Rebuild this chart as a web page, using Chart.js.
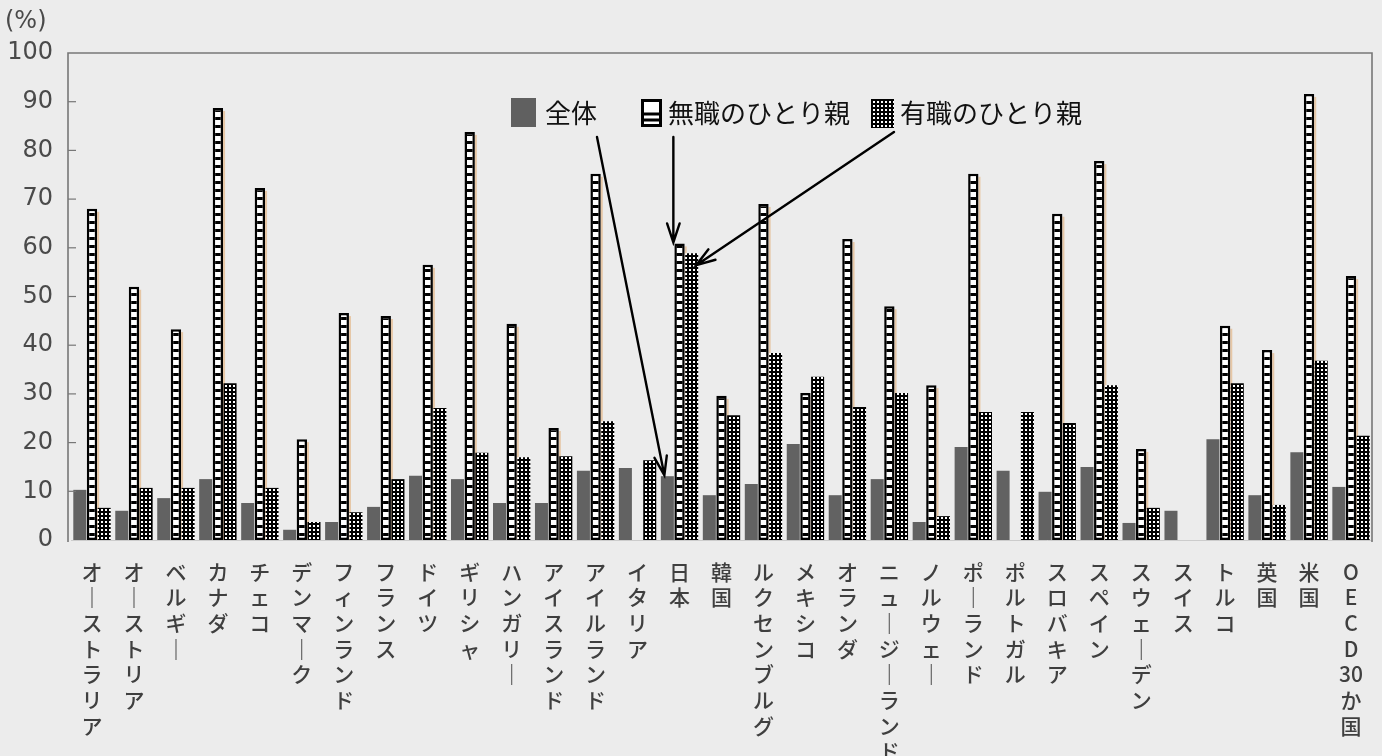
<!DOCTYPE html>
<html lang="ja">
<head>
<meta charset="utf-8">
<title>ひとり親世帯の貧困率</title>
<script src="https://cdn.jsdelivr.net/npm/chart.js"></script>
<style>
  html, body { margin: 0; padding: 0; background: #ececec; }
  #chart { display: block; }
</style>
</head>
<body>
<canvas id="chart" width="1382" height="756"></canvas>
<script>
// データ（図から読み取った値、単位 %）
const countries = ['オーストラリア', 'オーストリア', 'ベルギー', 'カナダ', 'チェコ', 'デンマーク',
  'フィンランド', 'フランス', 'ドイツ', 'ギリシャ', 'ハンガリー', 'アイスランド', 'アイルランド',
  'イタリア', '日本', '韓国', 'ルクセンブルグ', 'メキシコ', 'オランダ', 'ニュージーランド',
  'ノルウェー', 'ポーランド', 'ポルトガル', 'スロバキア', 'スペイン', 'スウェーデン', 'スイス',
  'トルコ', '英国', '米国', 'OECD30か国'];
const zentai = [10.3, 6.0, 8.6, 12.5, 7.6, 2.1, 3.7, 6.8, 13.2, 12.5, 7.6, 7.6, 14.2, 14.8, 13.1,
  9.2, 11.5, 19.7, 9.2, 12.5, 3.7, 19.1, 14.2, 9.9, 15.0, 3.5, 6.0, 20.7, 9.2, 18.0, 10.9];
const mushoku = [68.0, 52.0, 43.3, 88.7, 72.3, 20.7, 46.6, 46.0, 56.5, 83.8, 44.4, 23.0, 75.2, null, 60.9,
  29.6, 69.0, 30.2, 61.8, 48.0, 31.8, 75.2, null, 67.0, 77.8, 18.7, null, 44.0, 39.0, 91.6, 54.2];
const yushoku = [6.6, 10.7, 10.7, 32.2, 10.7, 3.7, 5.7, 12.5, 27.1, 17.9, 17.0, 17.2, 24.4, 16.4, 58.9,
  25.6, 38.4, 33.5, 27.3, 30.2, 4.9, 26.3, 26.3, 24.0, 31.8, 6.6, null, 32.2, 7.2, 36.8, 21.4];
const yTicks = [0, 10, 20, 30, 40, 50, 60, 70, 80, 90, 100];
const seriesNames = ['全体', '無職のひとり親', '有職のひとり親'];
const unitLabel = '(%)';
const focusIndex = countries.indexOf('日本');

// 縦書きラベル（長音は縦棒にする）
function tateLabel(s) {
  if (s === 'OECD30か国') return ['O', 'E', 'C', 'D', '30', 'か', '国'];
  return Array.from(s).map(c => (c === 'ー' ? '｜' : c));
}

function makePattern(w, h, draw) {
  const c = document.createElement('canvas');
  c.width = w; c.height = h;
  const g = c.getContext('2d');
  draw(g);
  return document.getElementById('chart').getContext('2d').createPattern(c, 'repeat');
}

// はしご模様（無職）
const ladder = makePattern(4, 8, g => {
  g.fillStyle = '#ffffff'; g.fillRect(0, 0, 4, 8);
  g.fillStyle = '#000000'; g.fillRect(0, 5, 4, 3);
});
// 市松模様（有職）
const checker = makePattern(4, 4, g => {
  g.fillStyle = '#000000'; g.fillRect(0, 0, 4, 4);
  g.fillStyle = '#ffffff'; g.fillRect(1, 1, 2, 2);
});

function arrow(ctx, x1, y1, x2, y2) {
  const a = Math.atan2(y2 - y1, x2 - x1);
  const len = 20, spread = 0.32;
  ctx.beginPath();
  ctx.moveTo(x1, y1); ctx.lineTo(x2, y2);
  ctx.moveTo(x2 - len * Math.cos(a - spread), y2 - len * Math.sin(a - spread));
  ctx.lineTo(x2, y2);
  ctx.lineTo(x2 - len * Math.cos(a + spread), y2 - len * Math.sin(a + spread));
  ctx.stroke();
}

const decor = {
  id: 'decor',
  beforeDatasetsDraw(chart) {
    // 無職の棒の右側にある薄い茶色の影（スキャンのにじみ）
    const ctx = chart.ctx;
    ctx.save();
    ctx.fillStyle = 'rgba(226, 170, 110, 0.55)';
    chart.getDatasetMeta(1).data.forEach((b, i) => {
      if (mushoku[i] == null) return;
      ctx.fillRect(b.x + b.width / 2, b.y + 3, 2, b.base - b.y - 3);
    });
    ctx.restore();
  },
  afterDraw(chart) {
    const ctx = chart.ctx;
    const area = chart.chartArea;
    const ys = chart.scales.y;
    const axisX = area.left - 3;
    ctx.save();

    // 枠線と内向きの目盛り
    ctx.strokeStyle = '#777777';
    ctx.lineWidth = 1.6;
    ctx.beginPath();
    ctx.moveTo(axisX, area.bottom + 2);
    ctx.lineTo(axisX, area.top);
    ctx.lineTo(area.right, area.top);
    ctx.lineTo(area.right, area.bottom + 2);
    ctx.stroke();
    ctx.lineWidth = 1.2;
    yTicks.slice(1, -1).forEach(v => {
      const y = ys.getPixelForValue(v);
      ctx.beginPath(); ctx.moveTo(axisX, y); ctx.lineTo(axisX + 8, y); ctx.stroke();
    });

    // 単位
    ctx.fillStyle = '#4a4a4a';
    ctx.font = '24px "DejaVu Sans"';
    ctx.textAlign = 'left';
    ctx.textBaseline = 'middle';
    ctx.fillText(unitLabel, 5, 22);

    // 凡例
    const ly = 113;
    ctx.fillStyle = '#606060';
    ctx.fillRect(511, 98, 25, 29);
    ctx.fillStyle = '#ffffff';
    ctx.fillRect(641, 99, 21, 28);
    ctx.strokeStyle = '#000000';
    ctx.lineWidth = 3;
    ctx.strokeRect(642.5, 100.5, 18, 25);
    ctx.beginPath();
    ctx.moveTo(642, 114); ctx.lineTo(661, 114);
    ctx.moveTo(642, 120); ctx.lineTo(661, 120);
    ctx.stroke();
    ctx.fillStyle = checker;
    ctx.fillRect(871, 99, 23, 29);

    ctx.fillStyle = '#111111';
    ctx.font = '26px "Noto Sans CJK JP"';
    ctx.textBaseline = 'middle';
    ctx.fillText(seriesNames[0], 545, ly);
    ctx.fillText(seriesNames[1], 668, ly);
    ctx.fillText(seriesNames[2], 900, ly);

    // 日本を指す矢印
    const b0 = chart.getDatasetMeta(0).data[focusIndex];
    const b1 = chart.getDatasetMeta(1).data[focusIndex];
    const b2 = chart.getDatasetMeta(2).data[focusIndex];
    ctx.strokeStyle = '#000000';
    ctx.lineWidth = 2.4;
    ctx.lineCap = 'round';
    arrow(ctx, 597, 137, b0.x - 3, b0.y - 1);
    arrow(ctx, b1.x - b1.width / 2 - 1, 137, b1.x - b1.width / 2 - 1, b1.y - 1);
    arrow(ctx, 894, 132, b2.x + b2.width / 2 - 2, b2.y + 12);

    ctx.restore();
  }
};

new Chart(document.getElementById('chart'), {
  type: 'bar',
  data: {
    labels: countries.map(tateLabel),
    datasets: [
      {
        label: seriesNames[0],
        data: zentai,
        backgroundColor: '#626262',
        borderWidth: 0,
        barPercentage: 1.07,
        categoryPercentage: 0.87
      },
      {
        label: seriesNames[1],
        data: mushoku,
        backgroundColor: ladder,
        borderColor: '#000000',
        borderWidth: 2.5,
        borderSkipped: false,
        barPercentage: 0.85,
        categoryPercentage: 0.87
      },
      {
        label: seriesNames[2],
        data: yushoku,
        backgroundColor: checker,
        borderWidth: 0,
        barPercentage: 1.07,
        categoryPercentage: 0.87
      }
    ]
  },
  options: {
    responsive: false,
    animation: false,
    layout: { padding: { top: 53, right: 10, left: 0, bottom: 0 } },
    plugins: {
      legend: { display: false },
      tooltip: { enabled: false }
    },
    scales: {
      x: {
        grid: { display: false },
        border: { display: true, color: '#cccccc', width: 1 },
        ticks: {
          autoSkip: false,
          maxRotation: 0,
          minRotation: 0,
          padding: 11,
          color: '#3f3f3f',
          font: { family: '"Noto Sans CJK JP"', size: 21, weight: '500', lineHeight: 1.22 }
        },
        afterFit(s) { s.height = 216; }
      },
      y: {
        min: 0,
        max: 100,
        grid: { display: false },
        border: { display: false },
        ticks: {
          stepSize: 10,
          padding: 10,
          color: '#4a4a4a',
          font: { family: '"DejaVu Sans"', size: 24 }
        },
        afterFit(s) { s.width = 71; }
      }
    }
  },
  plugins: [decor]
});
</script>
</body>
</html>
